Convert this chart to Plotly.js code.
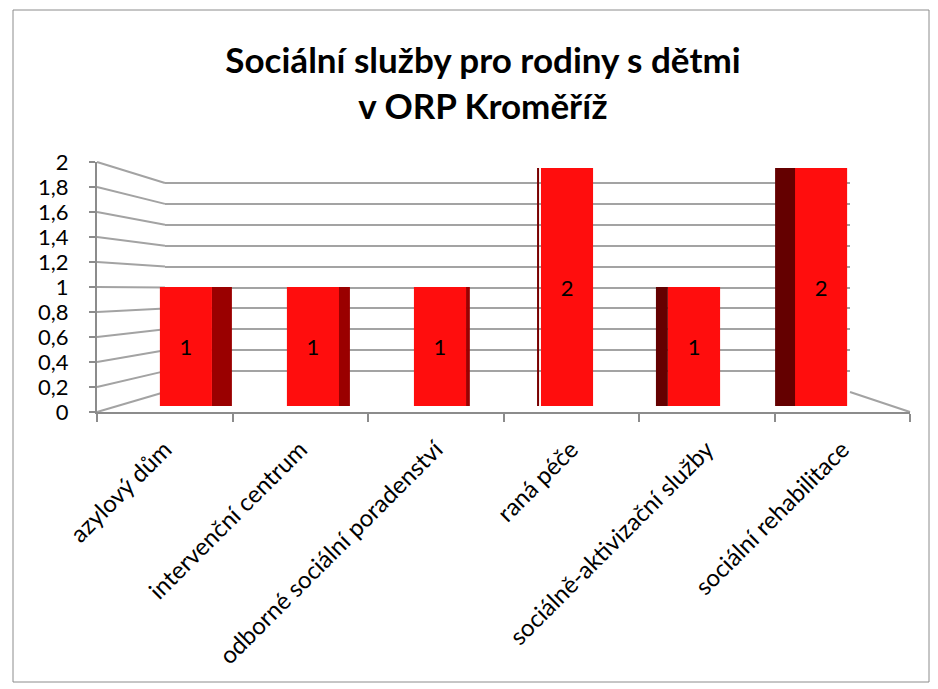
<!DOCTYPE html>
<html>
<head>
<meta charset="utf-8">
<script src="https://cdn.plot.ly/plotly-3.0.1.min.js"></script>
<style>
  body { margin: 0; background: #fff; }
  #chart { width: 938px; height: 689px; }
</style>
</head>
<body>
<div id="chart"></div>
<script>
// data
var categories = ["azylový dům", "intervenční centrum", "odborné sociální poradenství",
                  "raná péče", "sociálně-aktivizační služby", "sociální rehabilitace"];
var counts = [1, 1, 1, 2, 1, 2];
var yTicks = [0, 0.2, 0.4, 0.6, 0.8, 1, 1.2, 1.4, 1.6, 1.8, 2];

// page is 938 x 689, margins are 0 so domains are pixel based
var W = 938, H = 689;
function px(x) { return x / W; }
function py(y) { return (H - y) / H; }

var frontX = [px(97), px(910)];     // floor front edge / category axis
var frontY = [py(412), py(162)];    // value axis on the left
var wallX = [px(165), px(850)];     // back wall
var wallMax = 2.1;                  // a bit of headroom so the top gridline is kept
var wallY = [py(392), py(392 - 104.5 * wallMax)];
var barY = [py(406), py(168)];      // front faces of the bars

var fnt = "Lato, 'Open Sans', sans-serif";
var gridCol = "#a3a3a3";

// side faces of the pseudo 3D bars (offset / width in category units)
var sideOffset = [0.205, 0.197, 0.205, -0.236, -0.30, -0.362];
var sideWidth = [0.157, 0.094, 0.03, 0.016, 0.094, 0.165];
var sideColor = ["#9a0000", "#9a0000", "#9a0000", "#7a0000", "#640000", "#640000"];

var sides = {
  type: "bar",
  x: categories,
  y: counts,
  xaxis: "x3", yaxis: "y3",
  offset: sideOffset,
  width: sideWidth,
  marker: { color: sideColor, line: { width: 0 } },
  hoverinfo: "skip",
  showlegend: false
};

var bars = {
  type: "bar",
  x: categories,
  y: counts,
  xaxis: "x3", yaxis: "y3",
  width: 0.41,
  text: counts.map(String),
  textposition: "inside",
  insidetextanchor: "middle",
  constraintext: "none",
  textfont: { family: fnt, size: 22, color: "#000" },
  marker: { color: "#ff0d0d", line: { width: 0 } },
  showlegend: false
};

// invisible trace so the category axis shows its labels
var axisTrace = {
  type: "scatter", mode: "markers",
  x: categories, y: counts.map(function () { return 0; }),
  xaxis: "x", yaxis: "y",
  marker: { opacity: 0 }, hoverinfo: "skip", showlegend: false
};

// wall gridlines carry the back wall scale
var wallTrace = {
  type: "scatter", mode: "markers",
  x: [0], y: [0], xaxis: "x2", yaxis: "y2",
  marker: { opacity: 0 }, hoverinfo: "skip", showlegend: false
};

// slanted lines from the value axis to the back wall
var shapes = yTicks.map(function (v) {
  return {
    type: "line", xref: "paper", yref: "paper",
    x0: frontX[0], x1: wallX[0],
    y0: frontY[0] + v / 2 * (frontY[1] - frontY[0]),
    y1: wallY[0] + v / wallMax * (wallY[1] - wallY[0]),
    line: { color: gridCol, width: 2 }, layer: "below"
  };
});
shapes.push({
  type: "line", xref: "paper", yref: "paper",
  x0: wallX[1], x1: frontX[1], y0: wallY[0], y1: frontY[0],
  line: { color: gridCol, width: 2 }, layer: "below"
});
// outer border of the chart area
shapes.push({
  type: "rect", xref: "paper", yref: "paper",
  x0: px(13), x1: px(929), y0: py(682), y1: py(10),
  line: { color: "#8c8c8c", width: 1 }
});

var layout = {
  width: W, height: H,
  margin: { l: 0, r: 0, t: 0, b: 0 },
  paper_bgcolor: "#fff",
  plot_bgcolor: "rgba(0,0,0,0)",
  separators: ", ",
  barmode: "overlay",
  font: { family: fnt, color: "#000" },
  title: {
    text: "<b>Sociální služby pro rodiny s dětmi<br>v ORP Kroměříž</b>",
    font: { family: fnt, size: 35, color: "#000" },
    x: px(483), xanchor: "center",
    y: py(73), yanchor: "middle"
  },
  xaxis: {
    domain: frontX, anchor: "y",
    type: "category", categoryarray: categories,
    range: [-0.5, 5.5],
    tickangle: -45,
    tickfont: { family: fnt, size: 24, color: "#000" },
    ticklabelstandoff: 12,
    ticks: "outside", tickson: "boundaries", ticklen: 8, tickcolor: "#8c8c8c", tickwidth: 2,
    showline: true, linecolor: "#8c8c8c", linewidth: 2,
    showgrid: false, zeroline: false, fixedrange: true
  },
  yaxis: {
    domain: frontY, anchor: "x",
    range: [0, 2], tickvals: yTicks,
    tickfont: { family: fnt, size: 22, color: "#000" },
    ticklabelstandoff: 16,
    ticks: "outside", ticklen: 6, tickcolor: "#8c8c8c", tickwidth: 2,
    showline: true, linecolor: "#8c8c8c", linewidth: 2,
    showgrid: false, zeroline: false, fixedrange: true
  },
  xaxis2: {
    domain: wallX, anchor: "y2", range: [0, 1],
    visible: false, fixedrange: true
  },
  yaxis2: {
    domain: wallY, anchor: "x2", range: [0, wallMax], tickvals: yTicks,
    showticklabels: false, ticks: "",
    showgrid: true, gridcolor: gridCol, gridwidth: 2,
    zeroline: false, showline: false, fixedrange: true
  },
  xaxis3: {
    domain: frontX, anchor: "y3",
    type: "category", categoryarray: categories,
    range: [-0.70, 5.70], visible: false, fixedrange: true
  },
  yaxis3: {
    domain: barY, anchor: "x3", range: [0, 2],
    visible: false, fixedrange: true
  },
  shapes: shapes
};

Plotly.newPlot("chart", [axisTrace, wallTrace, sides, bars], layout, { displayModeBar: false, staticPlot: true });
</script>
</body>
</html>
